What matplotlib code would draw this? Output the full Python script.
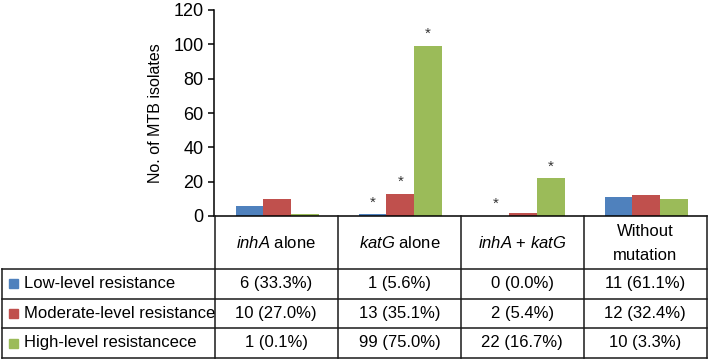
import numpy as np
import matplotlib as mpl
import matplotlib.pyplot as plt
from matplotlib.patches import Rectangle

# categories and counts (No. of MTB isolates)
categories = ['$\\it{inhA}$ alone', '$\\it{katG}$ alone',
              '$\\it{inhA}$ + $\\it{katG}$', 'Without\nmutation']
series = ['Low-level resistance', 'Moderate-level resistance', 'High-level resistancece']
low = [6, 1, 0, 11]
moderate = [10, 13, 2, 12]
high = [1, 99, 22, 10]
low_pct = ['33.3', '5.6', '0.0', '61.1']
moderate_pct = ['27.0', '35.1', '5.4', '32.4']
high_pct = ['0.1', '75.0', '16.7', '3.3']
# (series index, category index) marked with an asterisk
stars = [(0, 1), (1, 1), (2, 1), (0, 2), (2, 2)]
yticks = [0, 20, 40, 60, 80, 100, 120]

colors = ['#4F81BD', '#C0504D', '#9BBB59']

mpl.rcParams['font.family'] = 'Liberation Sans'
mpl.rcParams['mathtext.fontset'] = 'custom'
mpl.rcParams['mathtext.rm'] = 'Liberation Sans'
mpl.rcParams['mathtext.it'] = 'Liberation Sans:italic'

W, H = 709, 361
fig = plt.figure(figsize=(W / 100, H / 100), dpi=100)

def px(x0, y0, x1, y1):
    return [x0 / W, 1 - y1 / H, (x1 - x0) / W, (y1 - y0) / H]

ax = fig.add_axes(px(214.5, 10, 706.5, 216))
values = [low, moderate, high]
x = np.arange(len(categories))
bw = 0.225
for i, vals in enumerate(values):
    ax.bar(x + (i - 1) * bw + 0.01, vals, width=bw, color=colors[i], edgecolor='none')
for si, ci in stars:
    ax.annotate('*', (x[ci] + (si - 1) * bw + 0.01, values[si][ci]),
                xytext=(0, 3.5), textcoords='offset points',
                ha='center', va='bottom', fontsize=11, color='#333333')

ax.set_xlim(-0.5, len(categories) - 0.5)
ax.set_ylim(0, 120)
ax.set_yticks(yticks)
ax.set_xticks([])
ax.spines['top'].set_visible(False)
ax.spines['right'].set_visible(False)
ax.spines['left'].set_linewidth(1.1)
ax.spines['bottom'].set_linewidth(1.1)
ax.yaxis.set_tick_params('major', length=4, width=1.1, labelsize=13, pad=4)
ax.set_ylabel('No. of MTB isolates', fontsize=11.5, labelpad=7)

# data table below the chart
tx = fig.add_axes(px(1, 216, 707, 359))
tx.set_xlim(1, 707)
tx.set_ylim(359, 216)
tx.axis('off')
cols = [214.5, 338, 461, 583.5, 706.5]
rows = [216, 269, 298.5, 328, 358]
lw = 1.1
for c in cols:
    tx.plot([c, c], [rows[0], rows[-1]], color='#1a1a1a', lw=lw, clip_on=False)
tx.plot([2, 2], [rows[1], rows[-1]], color='#1a1a1a', lw=lw, clip_on=False)
for r in rows[1:]:
    tx.plot([2, cols[-1]], [r, r], color='#1a1a1a', lw=lw, clip_on=False)

for j, cat in enumerate(categories):
    xc = (cols[j] + cols[j + 1]) / 2
    tx.text(xc, (rows[0] + rows[1]) / 2 + 1, cat, ha='center', va='center',
            fontsize=12, linespacing=1.75)

pcts = [low_pct, moderate_pct, high_pct]
for i, name in enumerate(series):
    yc = (rows[i + 1] + rows[i + 2]) / 2
    tx.add_patch(Rectangle((8.5, yc - 4.5), 9, 9, color=colors[i]))
    tx.text(23.5, yc, name, ha='left', va='center', fontsize=12)
    for j in range(len(categories)):
        xc = (cols[j] + cols[j + 1]) / 2
        tx.text(xc, yc, '%d (%s%%)' % (values[i][j], pcts[i][j]),
                ha='center', va='center', fontsize=12)

fig.savefig('out.png', dpi=100)
